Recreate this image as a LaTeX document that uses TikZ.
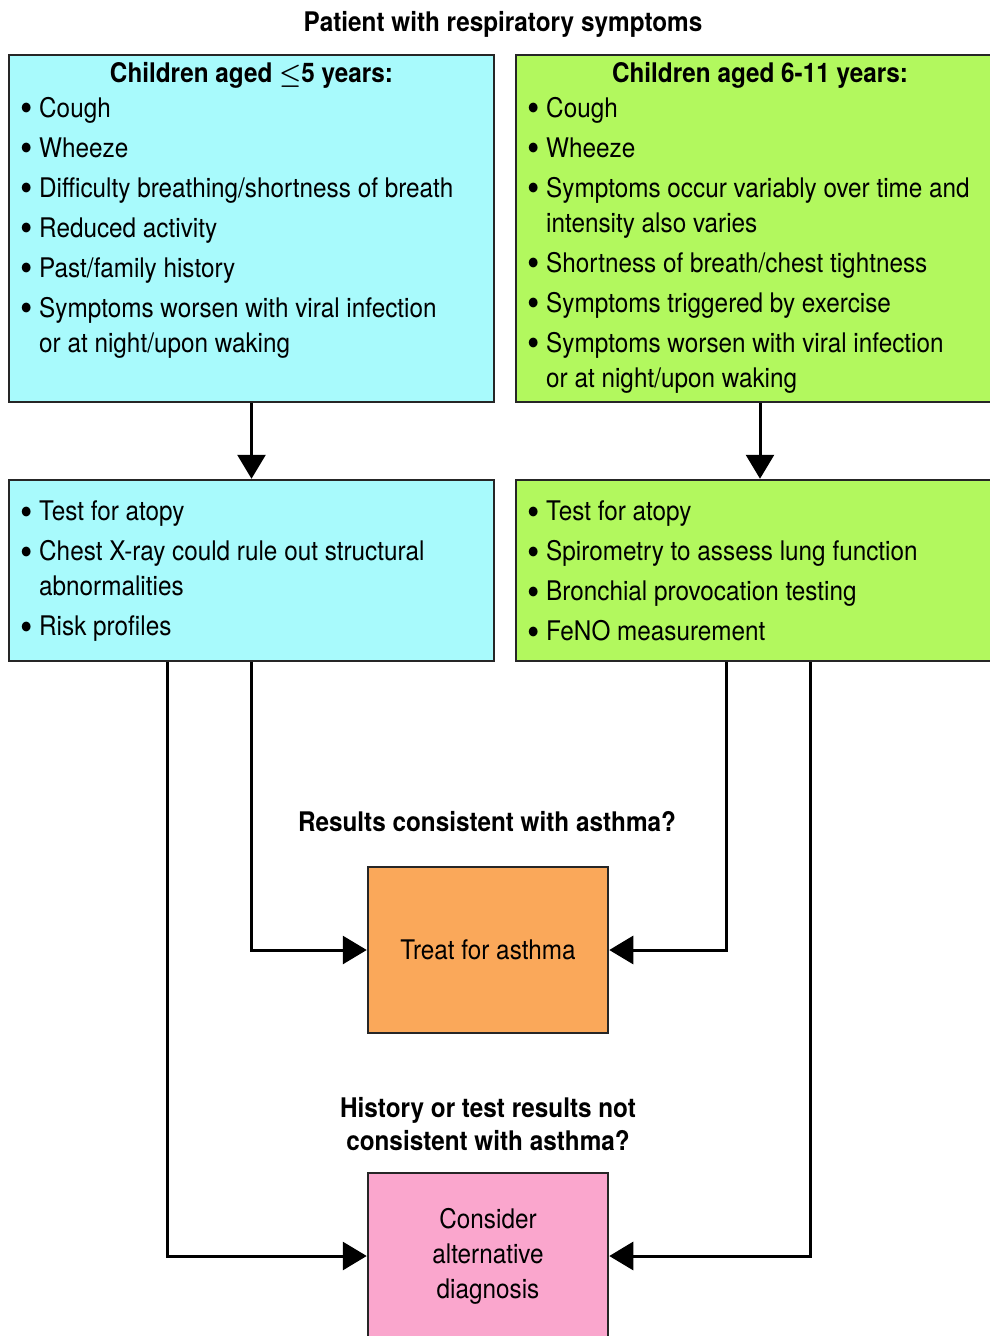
\documentclass[tikz,border=0pt]{standalone}
\usepackage{fontspec}
\setmainfont{TeX Gyre Heros}[FakeStretch=0.9]
\usetikzlibrary{arrows.meta}
\definecolor{cy}{RGB}{168,250,252}
\definecolor{gr}{RGB}{178,248,94}
\definecolor{org}{RGB}{250,168,90}
\definecolor{pnk}{RGB}{250,166,205}
\newcommand\bl{\makebox[19pt][l]{\raisebox{-4.5pt}{\scalebox{1.45}{\textbullet}}}}
\newcommand\ind{\hspace*{19pt}}
\begin{document}
\begin{tikzpicture}[x=1pt,y=-1pt,
 box/.style={draw=black!85, line width=2.5pt, inner sep=0},
 txt/.style={font=\fontsize{27}{35}\selectfont, align=left, inner sep=0, anchor=north west},
 ttl/.style={font=\fontsize{27}{33}\selectfont\bfseries\boldmath, inner sep=0, align=center},
 ctr/.style={font=\fontsize{27}{35}\selectfont, align=center},
 arr/.style={line width=3pt, -{Triangle[length=24pt,width=28pt]}},
 ]
\useasboundingbox (0,0) rectangle (990,1336);
\node[ttl] (title) at (503,24) {Patient with respiratory symptoms};
\node[box, fill=cy, minimum width=485pt, minimum height=347pt] (c1) at (251.5,228.5) {};
\node[box, fill=gr, minimum width=488pt, minimum height=347pt] (g1) at (760,228.5) {};
\node[box, fill=cy, minimum width=485pt, minimum height=181pt] (c2) at (251.5,570.5) {};
\node[box, fill=gr, minimum width=488pt, minimum height=181pt] (g2) at (760,570.5) {};
\node[box, fill=org, minimum width=240pt, minimum height=166pt, ctr] (treat) at (488,950) {Treat for asthma};
\node[box, fill=pnk, minimum width=240pt, minimum height=166pt, ctr] (alt) at (488,1256) {Consider\\alternative\\diagnosis};

\node[ttl] (c1t) at (251.5,75) {Children aged $\leq$5 years:};
\node[ttl] (g1t) at (760,75) {Children aged 6-11 years:};
\node[txt] (c1l) at (20,97) {\bl Cough\\[5pt]
\bl Wheeze\\[5pt]
\bl Difficulty breathing/shortness of breath\\[5pt]
\bl Reduced activity\\[5pt]
\bl Past/family history\\[5pt]
\bl Symptoms worsen with viral infection\\
\ind or at night/upon waking};
\node[txt] (g1l) at (527,97) {\bl Cough\\[5pt]
\bl Wheeze\\[5pt]
\bl Symptoms occur variably over time and\\
\ind intensity also varies\\[5pt]
\bl Shortness of breath/chest tightness\\[5pt]
\bl Symptoms triggered by exercise\\[5pt]
\bl Symptoms worsen with viral infection\\
\ind or at night/upon waking};
\node[txt] (c2l) at (20,501) {\bl Test for atopy\\[5pt]
\bl Chest X-ray could rule out structural\\
\ind abnormalities\\[5pt]
\bl Risk profiles};
\node[txt] (g2l) at (527,501) {\bl Test for atopy\\[5pt]
\bl Spirometry to assess lung function\\[5pt]
\bl Bronchial provocation testing\\[5pt]
\bl FeNO measurement};

\node[ttl] (q1) at (487,822) {Results consistent with asthma?};
\node[ttl] (q2) at (488,1124) {History or test results not\\consistent with asthma?};

\draw[arr] (c1.south) -- (c2.north);
\draw[arr] (g1.south) -- (g2.north);
\draw[arr] (c2.south) |- (treat.west);
\draw[arr] ([xshift=-34pt]g2.south) |- (treat.east);
\draw[arr] ([xshift=-84.5pt]c2.south) |- (alt.west);
\draw[arr] ([xshift=50pt]g2.south) |- (alt.east);
\end{tikzpicture}
\end{document}
